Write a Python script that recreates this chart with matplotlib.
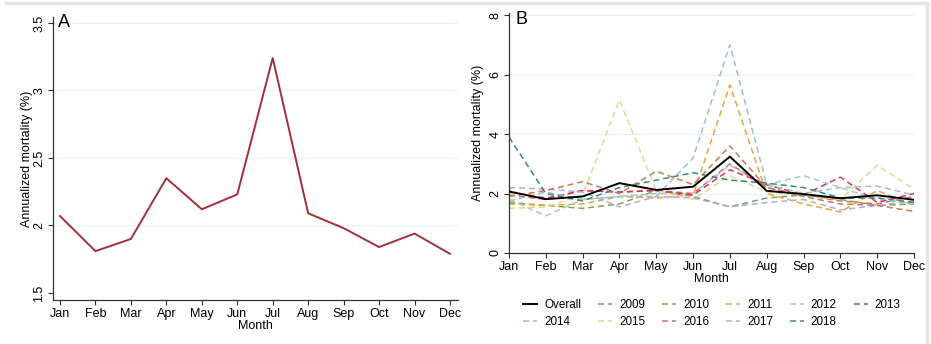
import matplotlib
matplotlib.use("Agg")
import matplotlib.pyplot as plt
from matplotlib.lines import Line2D

plt.rcParams['font.family'] = ['Liberation Sans', 'DejaVu Sans']

months = ['Jan', 'Feb', 'Mar', 'Apr', 'May', 'Jun',
          'Jul', 'Aug', 'Sep', 'Oct', 'Nov', 'Dec']

# overall annualized mortality (%) by month
overall = [2.07, 1.81, 1.90, 2.35, 2.12, 2.23, 3.24, 2.09, 1.98, 1.84, 1.94, 1.79]

# per-year series (approximate)
years = ['2009', '2010', '2011', '2012', '2013',
         '2014', '2015', '2016', '2017', '2018']
y2009 = [1.95, 1.80, 2.10, 2.05, 2.10, 2.00, 3.00, 2.20, 1.95, 1.75, 1.65, 1.90]
y2010 = [1.70, 1.60, 1.50, 1.65, 2.10, 1.90, 1.55, 1.85, 1.95, 1.80, 1.60, 1.65]
y2011 = [1.65, 1.60, 1.65, 1.90, 1.85, 1.95, 5.65, 2.00, 1.65, 1.38, 2.10, 1.60]
y2012 = [1.80, 1.25, 1.80, 1.90, 2.00, 2.00, 2.95, 2.30, 2.60, 2.20, 1.80, 1.65]
y2013 = [2.05, 1.85, 2.10, 2.05, 2.10, 1.95, 2.80, 2.30, 1.95, 2.55, 1.70, 2.00]
y2014 = [2.20, 2.15, 2.05, 1.55, 1.90, 1.85, 1.55, 1.70, 1.80, 1.45, 1.60, 1.75]
y2015 = [1.50, 1.55, 1.95, 5.15, 2.10, 1.80, 2.60, 2.05, 1.95, 1.80, 2.95, 2.15]
y2016 = [1.90, 2.10, 2.40, 2.00, 2.75, 2.30, 3.60, 2.20, 1.90, 1.65, 1.60, 1.40]
y2017 = [1.75, 2.05, 1.80, 1.90, 1.90, 3.20, 7.00, 2.30, 2.00, 2.20, 2.25, 1.95]
y2018 = [3.90, 2.00, 1.75, 2.20, 2.45, 2.70, 2.45, 2.35, 2.20, 1.85, 1.85, 1.70]
series = [y2009, y2010, y2011, y2012, y2013, y2014, y2015, y2016, y2017, y2018]
colors = ['#c8707c', '#7ca35c', '#f0a234', '#a6cbbd', '#e0345c',
          '#b4aae2', '#e2d994', '#c97a52', '#a3bccf', '#3b8a7c']

fig = plt.figure(figsize=(9.31, 3.44), dpi=100)
fig.patch.set_facecolor('white')

# light grey frame at top and right of the picture
fig.add_artist(Line2D([0.006, 0.996], [0.99, 0.99], color='#e6e6e6', lw=2.5))
fig.add_artist(Line2D([0.996, 0.996], [0.0, 0.99], color='#e6e6e6', lw=2.5))

grid_col = '#e8f1f2'
fs = 9


def style_axes(ax):
    for s in ['top', 'right']:
        ax.spines[s].set_visible(False)
    for s in ['left', 'bottom']:
        ax.spines[s].set_color('#333333')
        ax.spines[s].set_linewidth(0.9)
    ax.tick_params(axis='both', direction='out', length=3.5, width=0.8,
                   color='#333333', labelsize=fs, pad=2)
    ax.tick_params(axis='y', labelrotation=90)
    for lab in ax.get_yticklabels():
        lab.set_va('center')
    ax.set_xticks(range(12))
    ax.set_xticklabels(months)
    ax.set_xlabel('Month', fontsize=fs, labelpad=0)
    ax.set_ylabel('Annualized mortality (%)', fontsize=fs, labelpad=4)


# Panel A
axA = fig.add_axes([53 / 931, 44 / 344, 405 / 931, 283 / 344])
axA.plot(range(12), overall, color='#a33039', lw=1.4)
axA.set_xlim(-0.197, 11.226)
axA.set_ylim(1.448, 3.544)
axA.set_yticks([1.5, 2, 2.5, 3, 3.5])
axA.set_yticklabels(['1.5', '2', '2.5', '3', '3.5'])
for v in [2, 2.5, 3, 3.5]:
    axA.axhline(v, color=grid_col, lw=0.9, zorder=0)
style_axes(axA)
axA.yaxis.labelpad = 0
axA.text(0.012, 1.01, 'A', transform=axA.transAxes, fontsize=13,
         va='top', ha='left')

# Panel B
axB = fig.add_axes([509 / 931, 91 / 344, 405 / 931, 240 / 344])
handles = []
for yr, vals, c in zip(years, series, colors):
    h, = axB.plot(range(12), vals, color=c, lw=1.1, dashes=(4, 2.5), label=yr)
    handles.append(h)
hO, = axB.plot(range(12), overall, color='black', lw=1.4, label='Overall', zorder=5)
axB.set_xlim(0, 11)
axB.set_ylim(0, 8.07)
axB.set_yticks([0, 2, 4, 6, 8])
for v in [2, 4, 6, 8]:
    axB.axhline(v, color=grid_col, lw=0.9, zorder=0)
style_axes(axB)
axB.text(0.015, 1.01, 'B', transform=axB.transAxes, fontsize=13,
         va='top', ha='left')

leg_handles = [hO] + handles
leg_labels = ['Overall'] + years
# order entries so that they read row by row with 6 columns
ncol = 6
rows = 2
order = []
for c in range(ncol):
    for r in range(rows):
        k = r * ncol + c
        if k < len(leg_handles):
            order.append(k)
leg = axB.legend([leg_handles[k] for k in order], [leg_labels[k] for k in order],
                 ncol=ncol, loc='upper left', bbox_to_anchor=(0.035, -0.19),
                 frameon=False, fontsize=8.4, handlelength=1.2,
                 handletextpad=0.6, columnspacing=1.45, labelspacing=0.5,
                 borderaxespad=0, borderpad=0)

fig.savefig('out.png', dpi=100, facecolor='white')
